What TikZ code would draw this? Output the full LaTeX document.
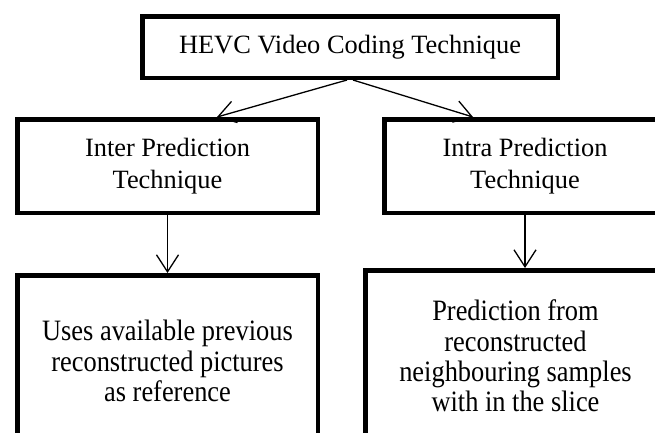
\documentclass[tikz,border=0pt]{standalone}
\usepackage{fontspec}
\setmainfont{Liberation Serif}
\usetikzlibrary{arrows.meta}
\newcommand{\tallstack}[1]{\scalebox{1}[1.12]{\fontsize{26.4}{26.8}\selectfont\begin{tabular}{@{}c@{}}#1\end{tabular}}}
\begin{document}
\begin{tikzpicture}[x=1pt,y=-1pt,
  box/.style={draw=black, line width=4.5pt, rectangle, align=center, inner sep=0pt,
    font=\fontsize{26.4}{30}\selectfont},
  conn/.style={line width=1.3pt, -{Straight Barb[length=17pt,width=22pt]}}]
\clip (0,0) rectangle (655,432);
\fill[white] (0,0) rectangle (655,432);
\node[box, minimum width=415.5pt, minimum height=61.5pt] (top) at (350,47) {HEVC Video Coding Technique};
\node[box, minimum width=300.5pt, minimum height=93.5pt] (lm) at (167.5,166) {Inter Prediction\\[2pt]Technique};
\node[box, minimum width=281.5pt, minimum height=93.5pt] (rm) at (525,166) {Intra Prediction\\[2pt]Technique};
\node[box, minimum width=300.5pt, minimum height=179.5pt] (lb) at (167.5,365) {\tallstack{Uses available previous\\reconstructed pictures\\as reference}};
\node[box, minimum width=300.5pt, minimum height=179.5pt] (rb) at (515.5,360) {\tallstack{Prediction from\\reconstructed\\neighbouring samples\\with in the slice}};
\draw[conn] ([xshift=-3pt]top.south) -- ([xshift=49.5pt]lm.north);
\draw[conn] ([xshift=3pt]top.south) -- ([xshift=-52pt]rm.north);
\draw[conn] (lm.south) -- (lb.north);
\draw[conn] (rm.south) -- (rm.south |- rb.north);
\end{tikzpicture}
\end{document}
